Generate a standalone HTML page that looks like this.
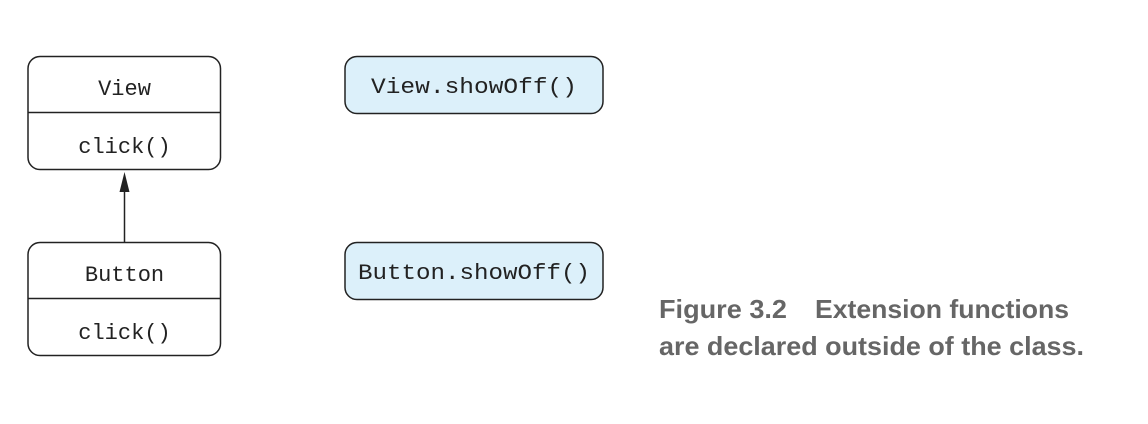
<!DOCTYPE html>
<html><head><meta charset="utf-8"><style>
html,body{margin:0;padding:0;background:#fff;}
svg{display:block;}
.m{font-family:"Liberation Mono",monospace;font-size:22px;fill:#222;}
.c{font-family:"Liberation Sans",sans-serif;font-weight:bold;font-size:26px;fill:#666;}
</style></head><body>
<svg width="1148" height="424" viewBox="0 0 1148 424" xmlns="http://www.w3.org/2000/svg">
<g fill="#fff" stroke="#222" stroke-width="1.5">
<rect x="28" y="56.5" width="192.5" height="113" rx="12"/>
<line x1="28" y1="112.5" x2="220.5" y2="112.5"/>
<rect x="28" y="242.5" width="192.5" height="113" rx="12"/>
<line x1="28" y1="298.5" x2="220.5" y2="298.5"/>
</g>
<g fill="#dcf0fa" stroke="#222" stroke-width="1.5">
<rect x="345" y="56.5" width="258" height="57" rx="12"/>
<rect x="345" y="242.5" width="258" height="57" rx="12"/>
</g>
<line x1="124.5" y1="242.5" x2="124.5" y2="188" stroke="#222" stroke-width="1.5"/>
<polygon points="124.5,172 119.5,192 129.5,192" fill="#222"/>
<text class="m" x="124.5" y="95" text-anchor="middle">View</text>
<text class="m" x="124.5" y="153" text-anchor="middle">click()</text>
<text class="m" x="124.5" y="281" text-anchor="middle">Button</text>
<text class="m" x="124.5" y="339" text-anchor="middle">click()</text>
<text class="m" x="474" y="93" text-anchor="middle" textLength="206" lengthAdjust="spacingAndGlyphs">View.showOff()</text>
<text class="m" x="474" y="279" text-anchor="middle" textLength="232" lengthAdjust="spacingAndGlyphs">Button.showOff()</text>
<text class="c" x="659" y="318" textLength="128" lengthAdjust="spacingAndGlyphs">Figure 3.2</text>
<text class="c" x="815" y="318" textLength="254" lengthAdjust="spacingAndGlyphs">Extension functions</text>
<text class="c" x="659" y="355" textLength="425" lengthAdjust="spacingAndGlyphs">are declared outside of the class.</text>
</svg>
</body></html>
